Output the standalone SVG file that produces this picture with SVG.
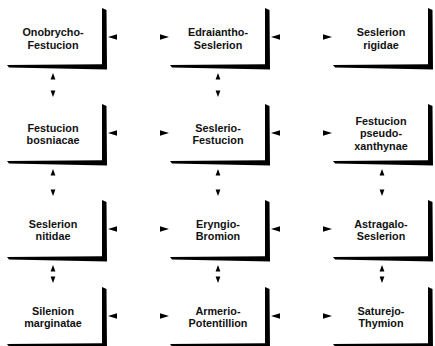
<svg xmlns="http://www.w3.org/2000/svg" xmlns:xlink="http://www.w3.org/1999/xlink" width="435" height="346" viewBox="0 0 435 346">
<style>
  .frame { fill: #000; }
  .lbl { font-family: "Liberation Sans", Arial, sans-serif; font-weight: bold; font-size: 10.8px; fill: #111; text-anchor: middle; }
  .ah { fill: #000; }
</style>
<defs>
  <path id="frame" d="M0,57 L95,56.2 L95,0 L99.5,2 L100,61.5 L2,59.5 Z"/>
  <polygon id="al" points="0,0 9,-2.7 9,2.7"/>
  <polygon id="ar" points="0,0 -9,-2.7 -9,2.7"/>
  <polygon id="au" points="0,0 -2.4,6.5 2.4,6.5"/>
  <polygon id="ad" points="0,0 -2.4,-6.5 2.4,-6.5"/>
</defs>
<rect width="435" height="346" fill="#fff"/>

<g id="n-onobrycho">
  <use xlink:href="#frame" class="frame" transform="translate(7,8)"/>
  <text class="lbl" x="53" y="36">Onobrycho-</text>
  <text class="lbl" x="53" y="48.5">Festucion</text>
</g>
<g id="n-edraiantho">
  <use xlink:href="#frame" class="frame" transform="translate(170,8)"/>
  <text class="lbl" x="218" y="36">Edraiantho-</text>
  <text class="lbl" x="218" y="48.5">Seslerion</text>
</g>
<g id="n-rigidae">
  <use xlink:href="#frame" class="frame" transform="translate(333,8)"/>
  <text class="lbl" x="381" y="36">Seslerion</text>
  <text class="lbl" x="381" y="48.5">rigidae</text>
</g>

<g id="n-bosniacae">
  <use xlink:href="#frame" class="frame" transform="translate(7,104)"/>
  <text class="lbl" x="53" y="131.5">Festucion</text>
  <text class="lbl" x="53" y="144">bosniacae</text>
</g>
<g id="n-seslerio-festucion">
  <use xlink:href="#frame" class="frame" transform="translate(170,104)"/>
  <text class="lbl" x="218" y="131.5">Seslerio-</text>
  <text class="lbl" x="218" y="144">Festucion</text>
</g>
<g id="n-pseudoxanthynae">
  <use xlink:href="#frame" class="frame" transform="translate(333,104)"/>
  <text class="lbl" x="381" y="124.5">Festucion</text>
  <text class="lbl" x="381" y="137">pseudo-</text>
  <text class="lbl" x="381" y="149.5">xanthynae</text>
</g>

<g id="n-nitidae">
  <use xlink:href="#frame" class="frame" transform="translate(7,200)"/>
  <text class="lbl" x="53" y="227.5">Seslerion</text>
  <text class="lbl" x="53" y="240">nitidae</text>
</g>
<g id="n-eryngio">
  <use xlink:href="#frame" class="frame" transform="translate(170,200)"/>
  <text class="lbl" x="218" y="227.5">Eryngio-</text>
  <text class="lbl" x="218" y="240">Bromion</text>
</g>
<g id="n-astragalo">
  <use xlink:href="#frame" class="frame" transform="translate(333,200)"/>
  <text class="lbl" x="381" y="227.5">Astragalo-</text>
  <text class="lbl" x="381" y="240">Seslerion</text>
</g>

<g id="n-silenion">
  <use xlink:href="#frame" class="frame" transform="translate(7,287)"/>
  <text class="lbl" x="53" y="314.5">Silenion</text>
  <text class="lbl" x="53" y="327">marginatae</text>
</g>
<g id="n-armerio">
  <use xlink:href="#frame" class="frame" transform="translate(170,287)"/>
  <text class="lbl" x="218" y="314.5">Armerio-</text>
  <text class="lbl" x="218" y="327">Potentillion</text>
</g>
<g id="n-saturejo">
  <use xlink:href="#frame" class="frame" transform="translate(333,287)"/>
  <text class="lbl" x="381" y="314.5">Saturejo-</text>
  <text class="lbl" x="381" y="327">Thymion</text>
</g>

<g id="connectors" class="ah">
  <use xlink:href="#al" x="108" y="37"/><use xlink:href="#ar" x="169" y="37"/>
  <use xlink:href="#al" x="271" y="37"/><use xlink:href="#ar" x="332" y="37"/>
  <use xlink:href="#al" x="108" y="133"/><use xlink:href="#ar" x="169" y="133"/>
  <use xlink:href="#al" x="271" y="133"/><use xlink:href="#ar" x="332" y="133"/>
  <use xlink:href="#al" x="108" y="229"/><use xlink:href="#ar" x="169" y="229"/>
  <use xlink:href="#al" x="271" y="229"/><use xlink:href="#ar" x="332" y="229"/>
  <use xlink:href="#al" x="108" y="316"/><use xlink:href="#ar" x="169" y="316"/>
  <use xlink:href="#al" x="271" y="316"/><use xlink:href="#ar" x="332" y="316"/>
  <use xlink:href="#au" x="53" y="73"/><use xlink:href="#ad" x="53" y="97"/>
  <use xlink:href="#au" x="53" y="169"/><use xlink:href="#ad" x="53" y="196"/>
  <use xlink:href="#au" x="53" y="265"/><use xlink:href="#ad" x="53" y="283"/>
  <use xlink:href="#au" x="218" y="73"/><use xlink:href="#ad" x="218" y="97"/>
  <use xlink:href="#au" x="218" y="169"/><use xlink:href="#ad" x="218" y="196"/>
  <use xlink:href="#au" x="218" y="265"/><use xlink:href="#ad" x="218" y="283"/>
  <use xlink:href="#au" x="382" y="169"/><use xlink:href="#ad" x="382" y="196"/>
  <use xlink:href="#au" x="382" y="265"/><use xlink:href="#ad" x="382" y="283"/>
</g>
</svg>
